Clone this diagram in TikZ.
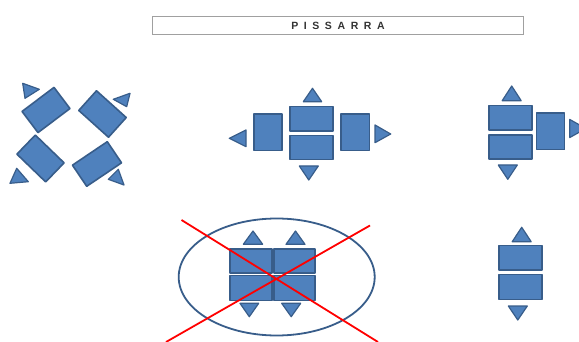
\documentclass[tikz,border=0pt]{standalone}
\usepackage{fontspec}
\setmainfont{Liberation Sans}
\definecolor{boxfill}{HTML}{4F81BD}
\definecolor{boxline}{HTML}{385D8A}
\definecolor{titleline}{HTML}{A0A0A0}
\tikzset{
  blk/.style={draw=boxline, fill=boxfill, line width=1.6pt, rectangle, inner sep=0pt, line join=round},
  tri/.style={draw=boxline, fill=boxfill, line width=1.2pt, line join=round},
  cross/.style={draw=red, line width=1.8pt},
}
\begin{document}
\begin{tikzpicture}[x=1pt,y=-1pt]
\useasboundingbox (0,0) rectangle (579,342);
\clip (0,0) rectangle (579,342);
\fill[white] (0,0) rectangle (579,342);
% title
\node[draw=titleline, line width=1.5pt, minimum width=371pt, minimum height=18pt, inner sep=0pt] (title) at (338,25.5) {};
\node[font=\bfseries\fontsize{10.5}{12}\selectfont, text=black!80] (titletext) at (338,25.5) {P\kern5.6pt I\kern5.6pt S\kern5.6pt S\kern5.6pt A\kern5.6pt R\kern5.6pt R\kern5.6pt A};

% left group (rotated)
\node[blk, minimum width=40pt, minimum height=26.5pt, rotate=37] (l1) at (46,110) {};
\node[blk, minimum width=40pt, minimum height=26.5pt, rotate=-42] (l2) at (102.5,114) {};
\node[blk, minimum width=40pt, minimum height=26.5pt, rotate=-44] (l3) at (40.5,158.5) {};
\node[blk, minimum width=42pt, minimum height=25.5pt, rotate=34] (l4) at (97,164) {};
\draw[tri] (22.7,83.3) -- (39.3,89.3) -- (25,98.3) -- cycle;
\draw[tri] (113.3,99.3) -- (130,93.3) -- (126.7,106.7) -- cycle;
\draw[tri] (10,183.3) -- (28.3,181.7) -- (16.7,168.3) -- cycle;
\draw[tri] (108.3,179.3) -- (124,185) -- (118.3,169.3) -- cycle;

% middle group
\node[blk, minimum width=43pt, minimum height=24.5pt] (m1) at (311.3,118.8) {};
\node[blk, minimum width=43pt, minimum height=24pt] (m2) at (311.3,147.5) {};
\node[blk, minimum width=28.5pt, minimum height=36.5pt] (m3) at (268,132.2) {};
\node[blk, minimum width=28.5pt, minimum height=36.5pt] (m4) at (355.3,132.2) {};
\draw[tri] (312.5,88.3) -- (321.7,101.7) -- (303.3,101.7) -- cycle;
\draw[tri] (299.3,166) -- (318.3,166) -- (308.8,180) -- cycle;
\draw[tri] (229.3,138.3) -- (246,130) -- (246,146.7) -- cycle;
\draw[tri] (375,125) -- (390.7,134) -- (375,142.7) -- cycle;

% right top group
\node[blk, minimum width=43pt, minimum height=24.5pt] (r1) at (510.5,117.8) {};
\node[blk, minimum width=43pt, minimum height=24.5pt] (r2) at (510.5,147) {};
\node[blk, minimum width=28pt, minimum height=36.5pt] (r3) at (550.5,131.3) {};
\draw[tri] (511.7,86) -- (521.2,100.7) -- (502.2,100.7) -- cycle;
\draw[tri] (498.3,165) -- (517.3,165) -- (507.8,179.3) -- cycle;
\draw[tri] (569.8,119.5) -- (586,128.5) -- (569.8,137.5) -- cycle;

% bottom middle group (crossed)
\draw[draw=boxline, line width=1.8pt] (276.7,277) ellipse [x radius=98pt, y radius=58.5pt];
\node[blk, minimum width=42.5pt, minimum height=24pt] (b1) at (251,260.8) {};
\node[blk, minimum width=40.5pt, minimum height=24pt] (b2) at (294.5,260.8) {};
\node[blk, minimum width=42.5pt, minimum height=25pt] (b3) at (251,288) {};
\node[blk, minimum width=40.5pt, minimum height=25pt] (b4) at (294.5,288) {};
\draw[tri] (253,231) -- (262.7,244.3) -- (243.3,244.3) -- cycle;
\draw[tri] (295.5,231) -- (305,244.3) -- (286,244.3) -- cycle;
\draw[tri] (240,303.3) -- (258.7,303.3) -- (249.3,316.7) -- cycle;
\draw[tri] (281.7,303.3) -- (300.7,303.3) -- (291.2,316.7) -- cycle;
\coordinate (c1a) at (181.5,220);
\coordinate (c1b) at (378,342);
\coordinate (c2a) at (370,225.5);
\coordinate (c2b) at (166,342);
\draw[cross] (c1a) -- (c1b);
\draw[cross] (c2a) -- (c2b);

% bottom right group
\node[blk, minimum width=43pt, minimum height=24.5pt] (s1) at (520.5,257.8) {};
\node[blk, minimum width=43pt, minimum height=25pt] (s2) at (520.5,287) {};
\draw[tri] (521.7,227.3) -- (531.2,241.7) -- (512.2,241.7) -- cycle;
\draw[tri] (508.3,306) -- (527.3,306) -- (517.8,320) -- cycle;
\end{tikzpicture}
\end{document}
